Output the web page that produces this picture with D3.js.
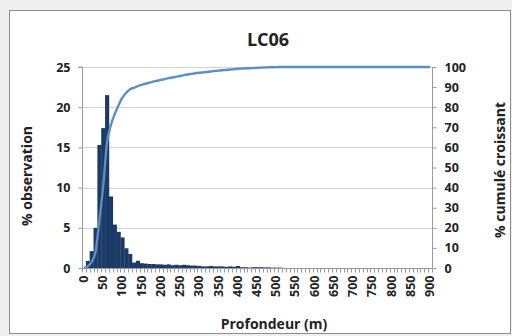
<!DOCTYPE html>
<html>
<head>
<meta charset="utf-8">
<script src="https://cdn.jsdelivr.net/npm/d3@7"></script>
<style>
  html, body { margin: 0; padding: 0; background: #efefef; }
  svg { display: block; }
  text { font-family: "Open Sans", "DejaVu Sans", sans-serif; font-weight: 700; fill: #222; }
</style>
</head>
<body>
<svg id="chart" width="512" height="336"></svg>
<script>
// Depth classes (m), one every 10 m
const depths = [0,10,20,30,40,50,60,70,80,90,100,110,120,130,140,150,160,170,180,190,
  200,210,220,230,240,250,260,270,280,290,300,310,320,330,340,350,360,370,380,390,
  400,410,420,430,440,450,460,470,480,490,500,510,520,530,540,550,560,570,580,590,
  600,610,620,630,640,650,660,670,680,690,700,710,720,730,740,750,760,770,780,790,
  800,810,820,830,840,850,860,870,880,890,900];

// % of observations in each depth class
const pctObs = [0,0.87,2.1,5.0,15.3,17.4,21.5,8.9,5.4,4.5,3.8,2.45,1.75,0.67,0.9,0.6,0.55,0.5,0.5,0.45,
  0.45,0.4,0.45,0.35,0.4,0.35,0.4,0.35,0.3,0.3,0.25,0.2,0.2,0.25,0.2,0.2,0.2,0.15,0.2,0.15,
  0.25,0.1,0.1,0.05,0.1,0.1,0.1,0.08,0.08,0.05,0.05,0.05,0,0,0,0,0,0,0,0,
  0,0,0,0,0,0,0,0,0,0,0,0,0,0,0,0,0,0,0,0,
  0,0,0,0,0,0,0,0,0,0,0];

// Cumulative % (increasing)
const pctCum = [0,0.87,2.97,7.97,23.27,40.67,62.17,71.07,76.47,80.97,84.77,87.22,88.97,89.64,90.54,91.14,91.69,92.19,92.69,93.14,
  93.59,93.99,94.44,94.79,95.19,95.54,95.94,96.29,96.59,96.89,97.14,97.34,97.54,97.79,97.99,98.19,98.39,98.54,98.74,98.89,
  99.14,99.24,99.34,99.39,99.49,99.59,99.69,99.77,99.85,99.9,99.95,100,100,100,100,100,100,100,100,100,
  100,100,100,100,100,100,100,100,100,100,100,100,100,100,100,100,100,100,100,100,
  100,100,100,100,100,100,100,100,100,100,100];

const xTickLabels = [0,50,100,150,200,250,300,350,400,450,500,550,600,650,700,750,800,850,900];
const leftTicks = [0,5,10,15,20,25];
const rightTicks = [0,10,20,30,40,50,60,70,80,90,100];

const svg = d3.select("#chart");

// chart frame
svg.append("rect")
  .attr("x", 9.5).attr("y", 10.5).attr("width", 501).attr("height", 323)
  .attr("fill", "#fff").attr("stroke", "#8c8c8c").attr("stroke-width", 1);

const plot = { left: 82, right: 432, top: 67, bottom: 268 };

const x = d3.scaleBand().domain(depths).range([plot.left, plot.right]).padding(0);
const yL = d3.scaleLinear().domain([0, 25]).range([plot.bottom, plot.top]);
const yR = d3.scaleLinear().domain([0, 100]).range([plot.bottom, plot.top]);

// horizontal gridlines
svg.append("g")
  .selectAll("line").data(leftTicks.slice(1)).join("line")
  .attr("x1", plot.left).attr("x2", plot.right)
  .attr("y1", d => Math.round(yL(d)) + 0.5).attr("y2", d => Math.round(yL(d)) + 0.5)
  .attr("stroke", "#d4d4d4").attr("stroke-width", 1);

// histogram bars
svg.append("g")
  .selectAll("rect").data(depths).join("rect")
  .attr("x", d => x(d))
  .attr("width", x.bandwidth() + 0.3)
  .attr("y", (d, i) => yL(pctObs[i]))
  .attr("height", (d, i) => plot.bottom - yL(pctObs[i]))
  .attr("fill", "#1b3a66");

// cumulative curve
const line = d3.line()
  .x((d, i) => x(depths[i]) + x.bandwidth() / 2)
  .y(d => yR(d))
  .curve(d3.curveMonotoneX);
svg.append("path")
  .datum(pctCum)
  .attr("d", line)
  .attr("fill", "none")
  .attr("stroke", "#5b8dc8")
  .attr("stroke-width", 2.4);

// left axis
const axL = d3.axisLeft(yL).tickValues(leftTicks).tickSize(4).tickPadding(8);
const gL = svg.append("g").attr("transform", `translate(${plot.left + 0.5},0)`).call(axL);
gL.select(".domain").attr("stroke", "#9a9a9a").attr("d", `M-4,${plot.top}H0V${plot.bottom}`);
gL.selectAll(".tick line").attr("stroke", "#9a9a9a");
gL.selectAll(".tick text").style("font-size", "12.5px").attr("fill", "#222");

// right axis
const axR = d3.axisRight(yR).tickValues(rightTicks).tickSize(4).tickPadding(8);
const gR = svg.append("g").attr("transform", `translate(${plot.right + 0.5},0)`).call(axR);
gR.select(".domain").attr("stroke", "#9a9a9a").attr("d", `M0,${plot.top}V${plot.bottom}`);
gR.selectAll(".tick line").attr("stroke", "#9a9a9a");
gR.selectAll(".tick text").style("font-size", "12.5px").attr("fill", "#222");

// bottom axis: a tick at every class boundary, a label every 50 m
const gB = svg.append("g").attr("transform", `translate(0,${plot.bottom + 0.5})`);
gB.append("line").attr("x1", plot.left).attr("x2", plot.right)
  .attr("stroke", "#9a9a9a");
gB.selectAll("line.tk").data(depths.concat(["end"])).join("line")
  .attr("class", "tk")
  .attr("x1", (d, i) => Math.round(plot.left + i * x.bandwidth()) + 0.5)
  .attr("x2", (d, i) => Math.round(plot.left + i * x.bandwidth()) + 0.5)
  .attr("y1", 0).attr("y2", 4)
  .attr("stroke", "#9a9a9a");
gB.selectAll("text").data(xTickLabels).join("text")
  .attr("transform", d => `translate(${x(d) + x.bandwidth() / 2 + 4},7) rotate(-90)`)
  .attr("text-anchor", "end")
  .style("font-size", "12.5px")
  .text(d => d);

// titles
svg.append("text").attr("x", 268).attr("y", 46).attr("text-anchor", "middle")
  .style("font-size", "18px").text("LC06");
svg.append("text").attr("transform", "translate(32,176) rotate(-90)").attr("text-anchor", "middle")
  .style("font-size", "14px").text("% observation");
svg.append("text").attr("transform", "translate(505,170) rotate(-90)").attr("text-anchor", "middle")
  .style("font-size", "14px").text("% cumulé croissant");
svg.append("text").attr("x", 274).attr("y", 329).attr("text-anchor", "middle")
  .style("font-size", "14px").text("Profondeur (m)");
</script>
</body>
</html>
